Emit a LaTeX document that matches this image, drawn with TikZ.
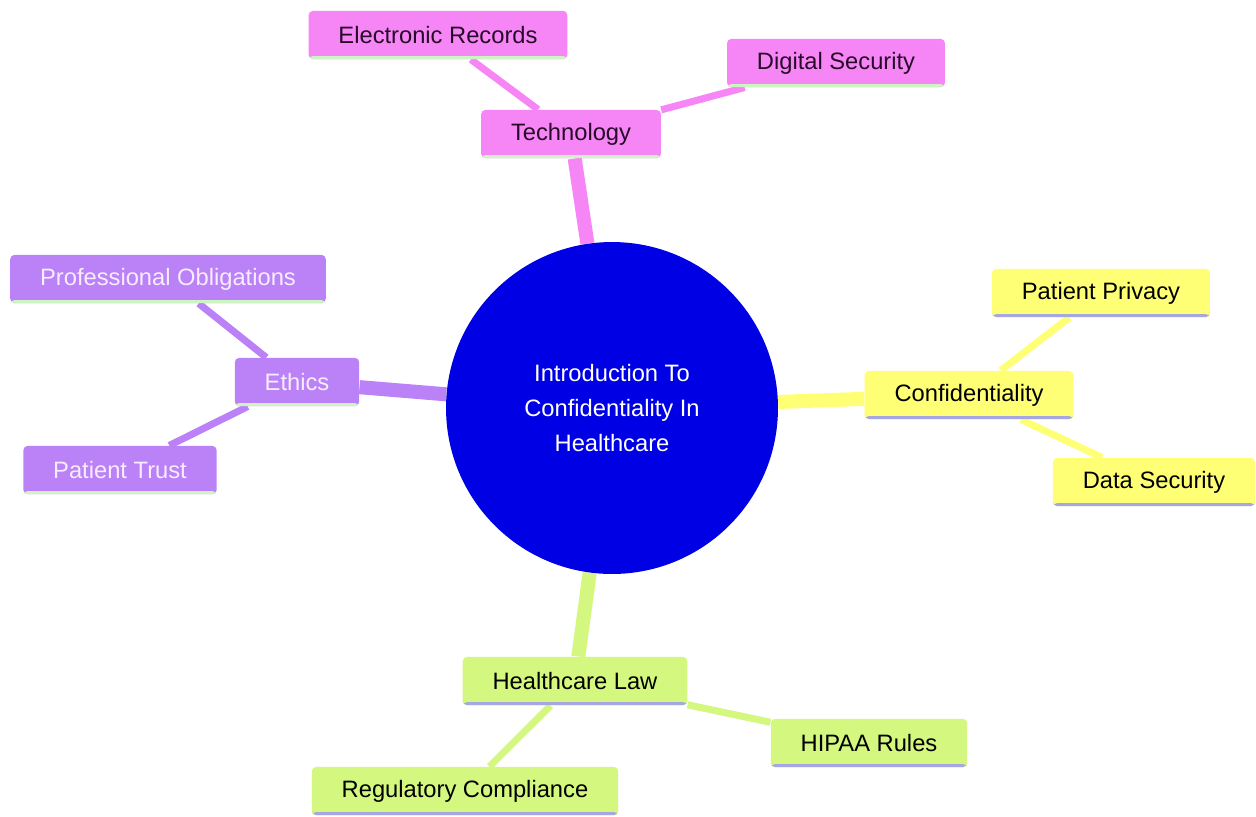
\documentclass[tikz,border=0pt]{standalone}
\usepackage{fontspec}
\setmainfont{Liberation Sans}
\usetikzlibrary{backgrounds}

\definecolor{techpink}{RGB}{246,134,246}
\definecolor{ethicspurple}{RGB}{186,130,246}
\definecolor{confyellow}{RGB}{255,255,118}
\definecolor{lawgreen}{RGB}{212,247,128}
\definecolor{rootblue}{RGB}{0,0,228}
\definecolor{stripegreen}{RGB}{206,244,196}
\definecolor{stripeblue}{RGB}{166,166,226}
\definecolor{darktext}{RGB}{40,10,40}
\definecolor{lighttext}{RGB}{248,236,255}

\begin{document}
\begin{tikzpicture}[x=0.02cm, y=-0.02cm, font=\fontsize{13.5}{16}\selectfont,
    card/.style={rounded corners=2.5pt, inner xsep=17pt, inner ysep=0pt, minimum height=27.5pt},
    stripe/.style={path picture={\fill[#1] ([yshift=1.8pt]path picture bounding box.south west) rectangle (path picture bounding box.south east);}},
    tech/.style={card, fill=techpink, text=darktext, stripe=stripegreen},
    ethics/.style={card, fill=ethicspurple, text=lighttext, stripe=stripegreen},
    conf/.style={card, fill=confyellow, text=black, stripe=stripeblue},
    law/.style={card, fill=lawgreen, text=black, stripe=stripeblue},
    root/.style={circle, fill=rootblue, text=white, minimum size=6.64cm, align=center, font=\fontsize{13.5}{20}\selectfont},
    trunk/.style={line width=8pt},
    twig/.style={line width=4pt}]
    \useasboundingbox (0,0) rectangle (1256,816);

    \node[root] (intro) at (612,408) {Introduction To\\Confidentiality In\\Healthcare};

    % technology branch
    \node[tech] (technology) at (571,134) {Technology};
    \node[tech] (records) at (438,35) {Electronic Records};
    \node[tech] (digital) at (836,63) {Digital Security};

    % ethics branch
    \node[ethics] (ethics) at (297,382) {Ethics};
    \node[ethics] (obligations) at (168,279) {Professional Obligations};
    \node[ethics] (trust) at (120,470) {Patient Trust};

    % confidentiality branch
    \node[conf] (confidentiality) at (969,395) {Confidentiality};
    \node[conf] (privacy) at (1101,293) {Patient Privacy};
    \node[conf] (datasec) at (1154,482) {Data Security};

    % law branch
    \node[law] (law) at (575,681) {Healthcare Law};
    \node[law] (hipaa) at (869,743) {HIPAA Rules};
    \node[law] (compliance) at (465,791) {Regulatory Compliance};

    \begin{scope}[on background layer]
        \fill[white] (0,0) rectangle (1256,816);
        \draw[trunk, techpink] (intro) -- (technology);
        \draw[twig, techpink] (technology) -- (records);
        \draw[twig, techpink] (technology) -- (digital);
        \draw[trunk, ethicspurple] (intro) -- (ethics);
        \draw[twig, ethicspurple] (ethics) -- (obligations);
        \draw[twig, ethicspurple] (ethics) -- (trust);
        \draw[trunk, confyellow] (intro) -- (confidentiality);
        \draw[twig, confyellow] (confidentiality) -- (privacy);
        \draw[twig, confyellow] (confidentiality) -- (datasec);
        \draw[trunk, lawgreen] (intro) -- (law);
        \draw[twig, lawgreen] (law) -- (hipaa);
        \draw[twig, lawgreen] (law) -- (compliance);
    \end{scope}
\end{tikzpicture}
\end{document}
